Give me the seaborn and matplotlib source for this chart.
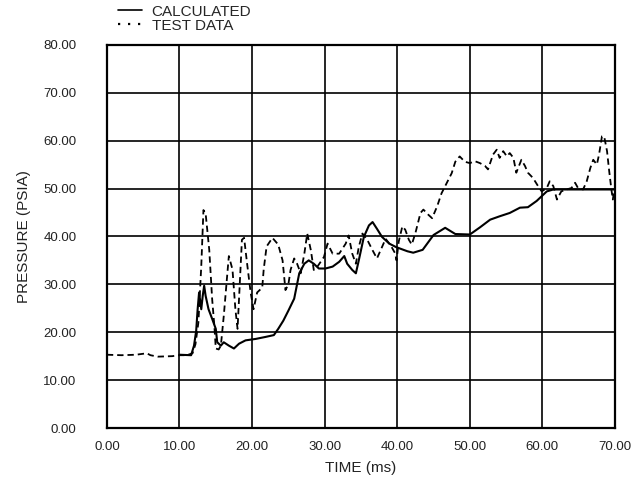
import numpy as np
import pandas as pd
import matplotlib
matplotlib.use("Agg")
import matplotlib.pyplot as plt
from matplotlib.lines import Line2D
import seaborn as sns

# calculated pressure trace
calc_time = [10.0, 11.6, 12.0, 12.3, 12.5, 12.7, 13.0, 13.2, 13.4, 13.6, 14.0, 14.5, 15.0, 15.2,
             15.7, 16.1, 16.8, 17.5, 18.2, 19.1, 20.5, 21.8, 23.0, 23.6, 24.3, 25.0, 25.8, 26.5,
             27.2, 27.8, 28.5, 29.2, 30.1, 31.1, 32.0, 32.7, 33.1, 33.8, 34.3, 34.7, 35.4, 36.1,
             36.6, 37.2, 37.9, 38.9, 39.8, 40.5, 41.4, 42.2, 43.5, 45.0, 46.6, 48.0, 50.0, 51.4,
             52.8, 54.1, 55.5, 56.9, 58.0, 59.2, 59.9, 60.6, 61.5, 70.0]
calc_psia = [15.3, 15.2, 17.2, 20.3, 24.8, 28.3, 24.8, 27.6, 29.7, 27.6, 24.8, 22.8, 20.7, 17.9,
             17.2, 17.9, 17.2, 16.6, 17.6, 18.3, 18.6, 19.0, 19.4, 20.7, 22.4, 24.5, 27.0, 32.3,
             34.3, 35.0, 34.3, 33.3, 33.3, 33.7, 34.7, 35.9, 34.3, 33.0, 32.3, 35.0, 39.9, 42.3,
             43.0, 41.6, 39.9, 38.5, 37.8, 37.4, 36.9, 36.6, 37.2, 40.3, 41.8, 40.5, 40.4, 41.9,
             43.5, 44.2, 44.9, 46.0, 46.1, 47.4, 48.4, 49.4, 49.8, 49.8]

# test data trace
test_time = [0.0, 2.0, 4.0, 5.5, 6.0, 7.0, 9.0, 10.0, 11.0, 11.8, 12.2, 12.6, 13.0, 13.3, 13.6,
             14.1, 14.5, 14.8, 15.0, 15.4, 15.7, 16.1, 16.6, 16.8, 17.3, 17.7, 18.0, 18.2, 18.6,
             18.9, 19.3, 19.8, 20.2, 20.7, 21.4, 21.6, 22.0, 22.8, 23.6, 24.2, 24.6, 25.0, 25.3,
             25.8, 26.2, 26.7, 27.2, 27.6, 28.1, 28.5, 29.0, 29.9, 30.4, 31.1, 32.0, 32.9, 33.3,
             33.8, 34.3, 34.7, 35.2, 35.9, 36.6, 37.2, 37.7, 38.4, 39.1, 39.7, 39.9, 40.2, 40.7,
             41.1, 41.6, 42.0, 42.5, 43.2, 43.6, 44.3, 44.8, 45.5, 46.1, 46.8, 47.5, 48.0, 48.6,
             49.3, 50.0, 50.7, 51.4, 52.1, 52.5, 53.2, 53.7, 54.1, 54.6, 55.1, 55.5, 56.0, 56.4,
             57.1, 57.6, 58.0, 58.7, 59.4, 59.9, 60.6, 61.0, 61.5, 62.0, 62.6, 63.3, 64.0, 64.5,
             64.9, 65.6, 66.1, 66.6, 67.0, 67.5, 67.8, 68.2, 68.5, 68.9, 69.2, 69.5, 69.7, 69.9]
test_psia = [15.3, 15.2, 15.3, 15.6, 15.2, 14.9, 15.0, 15.2, 15.2, 15.6, 17.5, 22.0, 33.8, 45.5, 44.8,
             37.2, 26.9, 21.4, 16.6, 16.4, 17.2, 23.4, 32.4, 35.9, 33.1, 24.8, 20.7, 26.9, 39.3,
             39.7, 34.5, 28.3, 24.8, 28.3, 29.3, 33.1, 37.9, 39.7, 38.3, 35.0, 28.8, 30.0, 33.0,
             35.4, 34.3, 32.3, 36.4, 40.6, 37.1, 33.0, 33.7, 35.7, 38.5, 36.4, 36.4, 38.5, 40.2,
             36.4, 34.3, 37.8, 40.6, 39.2, 37.1, 35.4, 37.1, 39.5, 38.1, 36.5, 35.0, 38.9, 42.1,
             41.4, 39.3, 38.3, 40.7, 44.9, 45.6, 44.5, 43.8, 46.3, 49.0, 51.1, 53.2, 55.6, 56.7,
             55.6, 55.3, 55.7, 55.3, 54.7, 54.0, 57.1, 58.1, 56.4, 57.8, 56.7, 57.4, 56.4, 53.3,
             56.0, 54.7, 53.3, 52.2, 50.5, 49.4, 50.1, 51.5, 50.5, 47.7, 49.4, 49.8, 50.1, 51.2,
             50.1, 49.8, 51.5, 54.3, 56.0, 55.0, 57.1, 60.9, 60.9, 57.8, 53.6, 49.8, 47.7, 49.8]

x_ticks = np.arange(0, 71, 10)
y_ticks = np.arange(0, 81, 10)

sns.set_style("white")
plt.rcParams['font.family'] = ['Liberation Sans', 'DejaVu Sans']

fig = plt.figure(figsize=(6.44, 4.82), dpi=100)
ax = fig.add_axes([0.166, 0.112, 0.789, 0.795])

calc = pd.DataFrame({'time': calc_time, 'psia': calc_psia})
test = pd.DataFrame({'time': test_time, 'psia': test_psia})

sns.lineplot(data=calc, x='time', y='psia', ax=ax, color='black', lw=1.5,
             sort=False, estimator=None)
sns.lineplot(data=test, x='time', y='psia', ax=ax, color='black', lw=1.3,
             sort=False, estimator=None, linestyle=(0, (3.5, 2.2)))

ax.set_xlim(0, 70)
ax.set_ylim(0, 80)
ax.set_xticks(x_ticks)
ax.set_yticks(y_ticks)
ax.set_xticklabels(['%.2f' % v for v in x_ticks])
ax.set_yticklabels(['%.2f' % v for v in y_ticks])
ax.grid(True, color='black', lw=1.2)
ax.set_axisbelow(True)
for s in ax.spines.values():
    s.set_color('black')
    s.set_linewidth(1.6)
ax.tick_params(axis='both', length=0, labelsize=9.5, colors='#222222')
ax.tick_params(axis='y', pad=22)
ax.tick_params(axis='x', pad=9)

ax.set_xlabel('TIME (ms)', fontsize=11, labelpad=6, color='#222222')
ax.set_ylabel('PRESSURE (PSIA)', fontsize=11, labelpad=9, color='#222222')

handles = [Line2D([], [], color='black', lw=1.2),
           Line2D([], [], color='black', lw=1.6, linestyle=(0, (1, 3.5)))]
ax.legend(handles, ['CALCULATED', 'TEST DATA'], loc='upper left',
          bbox_to_anchor=(0.182, 0.992), bbox_transform=fig.transFigure,
          frameon=False, fontsize=11, handlelength=1.6, handletextpad=0.6,
          labelspacing=0.0, borderpad=0.05, borderaxespad=0)

plt.savefig('out.png', dpi=100)
